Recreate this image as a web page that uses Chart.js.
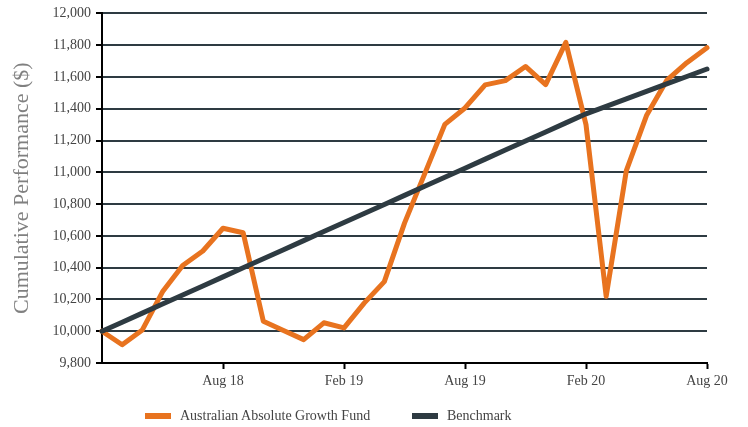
<!DOCTYPE html>
<html>
<head>
<meta charset="utf-8">
<script src="https://cdn.jsdelivr.net/npm/chart.js@4/dist/chart.umd.min.js"></script>
<style>
  html, body { margin: 0; padding: 0; background: #fff; }
  #wrap { position: relative; width: 748px; height: 427px; }
  #legend { position: absolute; left: 0; top: 406px; width: 748px; height: 20px;
            font-family: "Liberation Serif", serif; font-size: 14px; color: #444; }
  .item { position: absolute; top: 0; display: flex; align-items: center; height: 20px; }
  .sw { width: 26px; height: 6px; margin-right: 9px; }
</style>
</head>
<body>
<div id="wrap">
  <canvas id="c" width="748" height="427"></canvas>
  <div id="legend"></div>
</div>
<script>
const months = ['Feb 18','Mar 18','Apr 18','May 18','Jun 18','Jul 18','Aug 18','Sep 18','Oct 18','Nov 18','Dec 18','Jan 19',
  'Feb 19','Mar 19','Apr 19','May 19','Jun 19','Jul 19','Aug 19','Sep 19','Oct 19','Nov 19','Dec 19','Jan 20',
  'Feb 20','Mar 20','Apr 20','May 20','Jun 20','Jul 20','Aug 20'];
const tickLabels = ['Aug 18','Feb 19','Aug 19','Feb 20','Aug 20'];
const fundName = 'Australian Absolute Growth Fund';
const benchName = 'Benchmark';
const fundValues = [10000, 9915, 10008, 10248, 10414, 10505, 10648, 10620, 10063, 10005, 9947, 10053,
  10021, 10177, 10312, 10680, 10990, 11302, 11405, 11550, 11577, 11666, 11552, 11818,
  11300, 10220, 11010, 11357, 11578, 11690, 11784];
const benchValues = [10000, 10057, 10114, 10171, 10228, 10285, 10342, 10399, 10456, 10513, 10570, 10627,
  10684, 10741, 10798, 10855, 10912, 10969, 11026, 11083, 11140, 11197, 11254, 11311,
  11368, 11415, 11462, 11509, 11556, 11603, 11650];
const fundColor = '#E8731F';
const benchColor = '#2E3B42';

const FONT = '"Liberation Serif", serif';

new Chart(document.getElementById('c'), {
  type: 'line',
  data: {
    labels: months,
    datasets: [
      { label: benchName, data: benchValues, borderColor: benchColor, borderWidth: 5,
        pointRadius: 0, tension: 0, borderCapStyle: 'round', clip: false },
      { label: fundName, data: fundValues, borderColor: fundColor, borderWidth: 5,
        pointRadius: 0, tension: 0, borderCapStyle: 'round', borderJoinStyle: 'round', clip: false }
    ]
  },
  options: {
    responsive: false,
    animation: false,
    layout: { padding: { top: 6, right: 41, left: 0, bottom: 0 } },
    plugins: { legend: { display: false }, tooltip: { enabled: false } },
    scales: {
      x: {
        type: 'category',
        afterFit: s => { s.height = 64; },
        border: { display: true, color: '#000', width: 2 },
        grid: { drawOnChartArea: false, tickLength: 6, tickWidth: 2,
                tickColor: ctx => (ctx.index > 0 && ctx.index % 6 === 0) ? '#000' : 'rgba(0,0,0,0)' },
        ticks: {
          autoSkip: false, maxRotation: 0, padding: 4,
          color: '#444', font: { family: FONT, size: 14 },
          callback: function(v, i) {
            return (i > 0 && i % 6 === 0) ? tickLabels[i / 6 - 1] : '';
          }
        }
      },
      y: {
        min: 9800, max: 12000,
        afterFit: s => { s.width = 102; },
        border: { display: true, color: '#000', width: 2 },
        grid: { color: benchColor, lineWidth: 2, tickColor: '#000', tickLength: 6, tickWidth: 2 },
        ticks: { stepSize: 200, padding: 5, color: '#444', font: { family: FONT, size: 14 } },
        title: { display: true, text: 'Cumulative Performance ($)', color: '#808080',
                 font: { family: FONT, size: 22 }, padding: { top: 9, bottom: 0 } }
      }
    }
  }
});

const legend = document.getElementById('legend');
[[fundName, fundColor, 145], [benchName, benchColor, 412]].forEach(([name, col, x]) => {
  const it = document.createElement('div');
  it.className = 'item';
  it.style.left = x + 'px';
  const sw = document.createElement('span'); sw.className = 'sw'; sw.style.background = col;
  const tx = document.createElement('span'); tx.textContent = name;
  it.appendChild(sw); it.appendChild(tx);
  legend.appendChild(it);
});
</script>
</body>
</html>
